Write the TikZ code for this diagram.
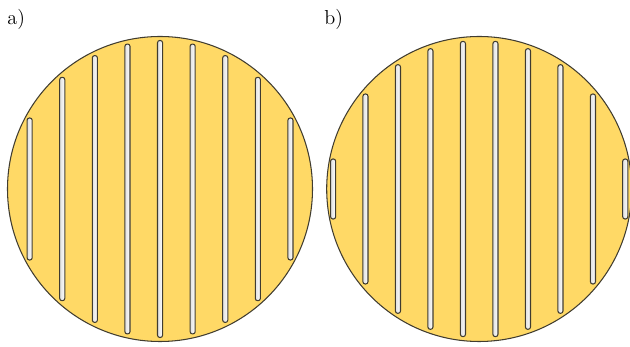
\documentclass[tikz,border=0pt]{standalone}
\usetikzlibrary{positioning}
\definecolor{discfill}{RGB}{255,217,102}
\definecolor{rimline}{RGB}{64,60,48}
\tikzset{
  disc/.style={draw=rimline, line width=0.6pt, fill=discfill},
  slot/.style={draw=rimline, line width=0.6pt, left color=black!12, right color=white, rounded corners=1.3pt},
  tag/.style={anchor=base west, inner sep=0pt, font=\fontsize{11.5}{14}\selectfont}
}
\begin{document}
\begin{tikzpicture}[x=0.02cm, y=-0.02cm]
\useasboundingbox (0,0) rectangle (630,347);
% a) odd number of slots
\node[tag] (la) at (7,25) {a)};
\draw[disc] (160,189) circle[radius=152.5];
\draw[slot] (27.1,118.0) rectangle (32.2,260.0);
\draw[slot] (59.7,77.3) rectangle (64.8,300.7);
\draw[slot] (92.3,55.6) rectangle (97.4,322.4);
\draw[slot] (124.9,44.1) rectangle (130.0,333.9);
\draw[slot] (157.5,40.5) rectangle (162.6,337.5);
\draw[slot] (190.1,44.1) rectangle (195.2,333.9);
\draw[slot] (222.7,55.6) rectangle (227.8,322.4);
\draw[slot] (255.3,77.3) rectangle (260.4,300.7);
\draw[slot] (287.9,118.0) rectangle (293.0,260.0);
% b) even number of slots
\node[tag] (lb) at (324,25) {b)};
\draw[disc] (479.2,189) circle[radius=152.5];
\draw[slot] (330.6,159.0) rectangle (335.7,219.0);
\draw[slot] (362.9,94.0) rectangle (368.0,284.0);
\draw[slot] (395.4,64.7) rectangle (400.5,313.3);
\draw[slot] (427.9,48.7) rectangle (433.0,329.3);
\draw[slot] (460.4,41.4) rectangle (465.5,336.6);
\draw[slot] (492.9,41.4) rectangle (498.0,336.6);
\draw[slot] (525.4,48.7) rectangle (530.5,329.3);
\draw[slot] (557.9,64.7) rectangle (563.0,313.3);
\draw[slot] (590.4,94.0) rectangle (595.5,284.0);
\draw[slot] (622.7,159.0) rectangle (627.8,219.0);
\end{tikzpicture}
\end{document}
